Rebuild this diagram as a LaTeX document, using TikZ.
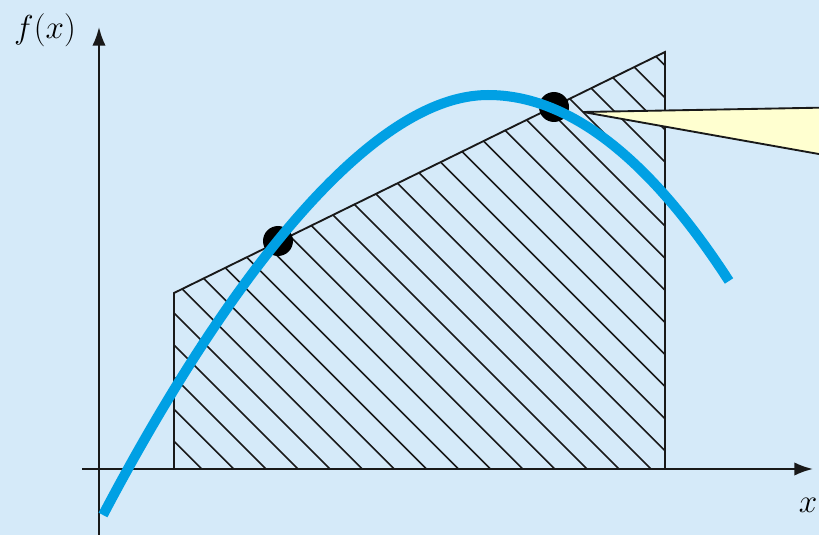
\documentclass[tikz,border=0pt]{standalone}
\usetikzlibrary{arrows.meta}
\definecolor{bg}{RGB}{213,234,249}
\definecolor{curveblue}{RGB}{0,160,228}
\definecolor{calloutfill}{RGB}{255,255,208}
\definecolor{ink}{RGB}{25,25,25}
\begin{document}
\begin{tikzpicture}[x=0.75pt,y=-0.75pt,
  axisline/.style={draw=ink,line width=1.6pt,-{Latex[length=14pt,width=10pt]}},
  edgeline/.style={draw=ink,line width=1.4pt},
  hatchline/.style={draw=ink,line width=1.2pt},
  fcurve/.style={draw=curveblue,line width=7.5pt},
  dotnode/.style={circle,fill=black,inner sep=0pt,minimum size=22.5pt},
  calloutshape/.style={fill=calloutfill,draw=ink,line width=1.4pt,line join=miter},
  lbl/.style={inner sep=0pt,font=\fontsize{24}{28}\selectfont}]
\useasboundingbox (0,0) rectangle (819,535);
\fill[bg] (0,0) rectangle (819,535);
\coordinate (A) at (174,469);
\coordinate (B) at (174,293);
\coordinate (C) at (665,52);
\coordinate (D) at (665,469);
% hatching
\begin{scope}
  \clip (A) -- (B) -- (C) -- (D) -- cycle;
  \foreach \k in {0,...,27} {
    \pgfmathsetmacro\cc{-267.3+32.1*\k}
    \draw[hatchline] (\cc+20,20) -- (\cc+500,500);
  }
\end{scope}
% trapezoid outline
\draw[edgeline] (A) -- (B) -- (C) -- (D);
% axes
\coordinate (xs) at (82,469);
\coordinate (xe) at (813,469);
\coordinate (ys) at (99,535);
\coordinate (ye) at (99,27);
\draw[axisline] (xs) -- (xe);
\draw[axisline] (ys) -- (ye);
% dots
\node[dotnode] (p1) at (278,241) {};
\node[dotnode] (p2) at (554,107) {};
% callout
\begin{scope}
  \clip (0,0) rectangle (819,535);
  \coordinate (tip) at (583,112);
  \coordinate (ct) at (830,107.5);
  \coordinate (cb) at (830,156);
  \draw[calloutshape] (ct) -- (tip) -- (cb);
\end{scope}
% curve
\coordinate (c0) at (103,515);
\coordinate (cpk) at (488,95);
\coordinate (c1) at (729,281);
\draw[fcurve] (c0) .. controls (223,287) and (368,95) .. (cpk)
  .. controls (568.3,95) and (648.7,157) .. (c1);
% labels
\node[lbl] (fx) at (45,30) {$f(x)$};
\node[lbl] (xl) at (808,505) {$x$};
\end{tikzpicture}
\end{document}
